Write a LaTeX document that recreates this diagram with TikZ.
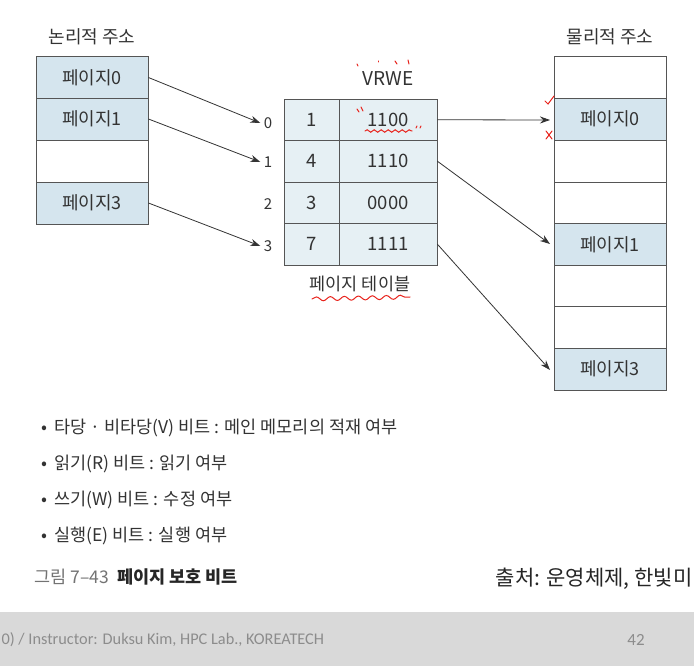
\documentclass[tikz,border=0pt]{standalone}
\usepackage{fontspec}
\setmainfont{Noto Sans CJK KR}
\newfontfamily\footfont{Carlito}
\usetikzlibrary{arrows.meta,decorations.pathmorphing}
\definecolor{pgblue}{HTML}{D5E5EE}
\definecolor{tblblue}{HTML}{E6F0F4}
\definecolor{edgegray}{HTML}{555555}
\definecolor{txtgray}{HTML}{333333}
\definecolor{footbg}{HTML}{D9D9D9}
\definecolor{foottxt}{HTML}{8C8C8C}
\definecolor{penred}{HTML}{E8231C}
\begin{document}
\begin{tikzpicture}[x=1pt,y=-1pt,
  cellbox/.style={draw=edgegray,line width=0.9pt,fill=pgblue,minimum width=112pt,minimum height=42pt,inner sep=0pt,font=\fontsize{18}{18}\selectfont,text=txtgray},
  emptybox/.style={cellbox,fill=white},
  tcell/.style={draw=edgegray,line width=0.9pt,fill=tblblue,minimum height=41.5pt,inner sep=0pt,font=\fontsize{18.5}{18.5}\selectfont,text=black!80},
  idx/.style={font=\fontsize{15}{15}\selectfont,text=txtgray},
  ttl/.style={font=\fontsize{18}{18}\selectfont,text=txtgray},
  bul/.style={anchor=west,font=\fontsize{17.5}{17.5}\selectfont,text=txtgray},
  arr/.style={-{Stealth[length=10pt,width=7pt]},line width=0.8pt,draw=black!80},
  pen/.style={draw=penred,line width=1pt,line cap=round}]
\useasboundingbox (0,0) rectangle (694,666);
\fill[white] (0,0) rectangle (694,666);
% footer band
\fill[footbg] (0,612) rectangle (694,666);
% titles
\node[ttl] (ltitle) at (92,37) {논리적 주소};
\node[ttl] (ptitle) at (610,37) {물리적 주소};
% logical
\node[cellbox] (l0) at (92,77.5) {페이지0};
\node[cellbox] (l1) at (92,119) {페이지1};
\node[emptybox] (l2) at (92,161) {};
\node[cellbox] (l3) at (92,203) {페이지3};
% page table
\node[tcell,minimum width=55pt] (t0a) at (311.5,119.75) {1};
\node[tcell,minimum width=98pt] (t0b) at (388,119.75) {1100};
\node[tcell,minimum width=55pt] (t1a) at (311.5,161.25) {4};
\node[tcell,minimum width=98pt] (t1b) at (388,161.25) {1110};
\node[tcell,minimum width=55pt] (t2a) at (311.5,202.75) {3};
\node[tcell,minimum width=98pt] (t2b) at (388,202.75) {0000};
\node[tcell,minimum width=55pt] (t3a) at (311.5,244.25) {7};
\node[tcell,minimum width=98pt] (t3b) at (388,244.25) {1111};
\node[idx] (i0) at (268,123) {0};
\node[idx] (i1) at (268,162) {1};
\node[idx] (i2) at (268,204) {2};
\node[idx] (i3) at (268,246) {3};
\node[font=\fontsize{19}{19}\selectfont,text=txtgray] (vrwe) at (388,79) {VRWE};
\node[font=\fontsize{17.5}{17.5}\selectfont,text=txtgray] (ptname) at (360,284) {페이지 테이블};
% physical
\node[emptybox] (p0) at (610,77.5) {};
\node[cellbox] (p1) at (610,119) {페이지0};
\node[emptybox] (p2) at (610,161) {};
\node[emptybox] (p3) at (610,203) {};
\node[cellbox] (p4) at (610,244.5) {페이지1};
\node[emptybox] (p5) at (610,286) {};
\node[emptybox] (p6) at (610,327.5) {};
\node[cellbox] (p7) at (610,369) {페이지3};
% arrows
\draw[arr] (l0.east) -- (i0.west);
\draw[arr] (l1.east) -- (i1.west);
\draw[arr] (l3.east) -- (i3.west);
\coordinate (q1) at (550,120);
\coordinate (q4) at (550,244);
\coordinate (q7) at (550,370);
\draw[arr] (t0b.east) -- (q1);
\draw[arr] (t1b.east) -- (q4);
\draw[arr] (t3b.east) -- (q7);
% red pen annotations
\draw[pen] (357,64) -- (358,66);
\draw[pen] (378,61) -- (378,62);
\draw[pen] (395,61) -- (397,64);
\draw[pen] (408,60) -- (409,64);
\draw[pen] (357,109) -- (359,112);
\draw[pen] (361,107) -- (363,111);
\draw[pen] (416,128) -- (417,126);
\draw[pen] (420,128) -- (421,126);
\draw[pen,decorate,decoration={snake,amplitude=1.2pt,segment length=7pt}] (365,131) -- (412,131);
\draw[pen,decorate,decoration={snake,amplitude=2pt,segment length=14pt}] (312,299) -- (410,297);
\draw[pen] (545,101) -- (548,104) -- (554,96);
\draw[pen] (546,131) -- (552,139);
\draw[pen] (552,131) -- (546,139);
% bullets
\node[bul] (b1) at (38,428) {•\hspace{7pt}타당 · 비타당(V) 비트 : 메인 메모리의 적재 여부};
\node[bul] (b2) at (38,464) {•\hspace{7pt}읽기(R) 비트 : 읽기 여부};
\node[bul] (b3) at (38,500) {•\hspace{7pt}쓰기(W) 비트 : 수정 여부};
\node[bul] (b4) at (38,536) {•\hspace{7pt}실행(E) 비트 : 실행 여부};
\node[bul,font=\fontsize{17.5}{17.5}\selectfont,text=black!55] (cap) at (31,577) {그림 7–43\hspace{8pt}\textcolor{black!85}{\bfseries 페이지 보호 비트}};
\node[anchor=east,font=\fontsize{21}{21}\selectfont,text=black!85] (src) at (696,579) {출처: 운영체제, 한빛미};
\node[anchor=west,font=\footfont\fontsize{16.3}{16.3}\selectfont,text=foottxt] (foot) at (-2,640) {0) / Instructor: Duksu Kim, HPC Lab., KOREATECH};
\node[font=\footfont\fontsize{17}{17}\selectfont,text=foottxt] (pg) at (636,640) {42};
\end{tikzpicture}
\end{document}
